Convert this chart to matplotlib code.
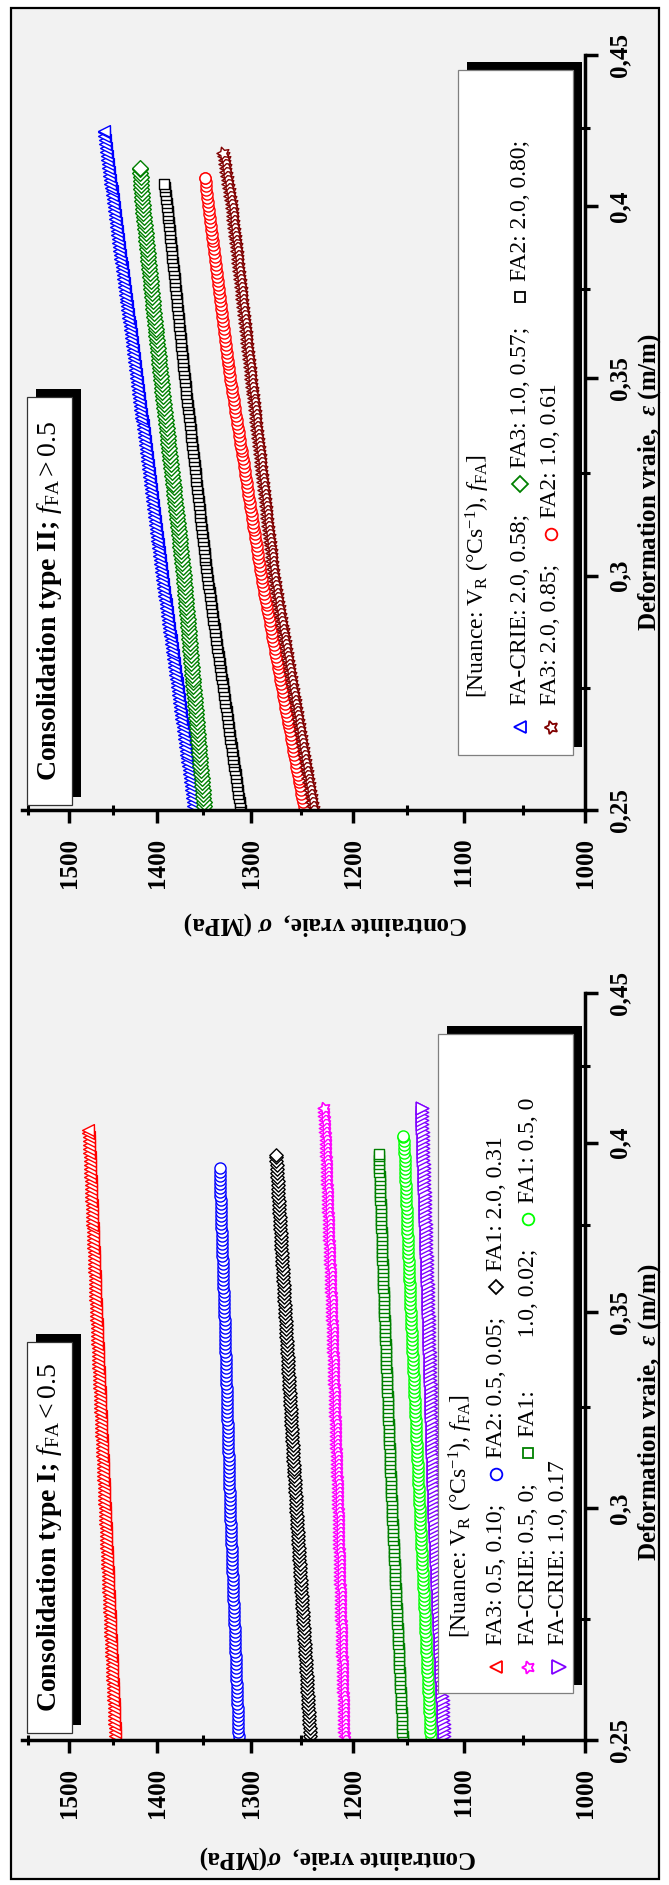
"""Courbes de consolidation (contrainte vraie vs deformation vraie), figure tournee."""

import matplotlib

matplotlib.use("Agg")

import matplotlib.pyplot as plt
import numpy as np
from matplotlib.lines import Line2D
from matplotlib.markers import MarkerStyle
from matplotlib.patches import Rectangle
from matplotlib.path import Path
from matplotlib.patheffects import AbstractPathEffect
from matplotlib.ticker import NullFormatter
from matplotlib.transforms import Affine2D, IdentityTransform

W, H = 669, 1885

plt.rcParams.update(
    {
        "font.family": ["Liberation Serif", "DejaVu Serif"],
        "mathtext.fontset": "custom",
        "mathtext.rm": "Liberation Serif",
        "mathtext.it": "Liberation Serif:italic",
        "mathtext.bf": "Liberation Serif:bold",
        "mathtext.bfit": "Liberation Serif:bold:italic",
    }
)

# ---------------------------------------------------------------------------
# Data
# ---------------------------------------------------------------------------
stress_ticks = [1000, 1100, 1200, 1300, 1400, 1500]
stress_minor = [1050, 1150, 1250, 1350, 1450, 1550]
strain_ticks = [0.25, 0.30, 0.35, 0.40, 0.45]
strain_tick_labels = ["0,25", "0,3", "0,35", "0,4", "0,45"]
strain_minor = [0.275, 0.325, 0.375, 0.425]

# Consolidation type II (f_FA > 0.5)
strain_crie_20_058 = [0.25, 0.30, 0.35, 0.40, 0.424]
stress_crie_20_058 = [1360, 1395, 1423, 1449, 1460]
strain_fa3_10_057 = [0.25, 0.30, 0.35, 0.40, 0.412]
stress_fa3_10_057 = [1349, 1371, 1396, 1416, 1419]
strain_fa2_20_080 = [0.25, 0.30, 0.35, 0.40, 0.407]
stress_fa2_20_080 = [1311, 1346, 1370, 1389, 1392]
strain_fa2_10_061 = [0.25, 0.30, 0.35, 0.40, 0.409]
stress_fa2_10_061 = [1247, 1290, 1322, 1345, 1348]
strain_fa3_20_085 = [0.25, 0.30, 0.35, 0.40, 0.417]
stress_fa3_20_085 = [1238, 1277, 1300, 1320, 1329]

# Consolidation type I (f_FA < 0.5)
strain_fa3_05_010 = [0.25, 0.30, 0.35, 0.40, 0.404]
stress_fa3_05_010 = [1447, 1459, 1469, 1477, 1478]
strain_fa2_05_005 = [0.25, 0.30, 0.35, 0.392]
stress_fa2_05_005 = [1313, 1322, 1328, 1333]
strain_fa1_20_031 = [0.25, 0.30, 0.35, 0.396]
stress_fa1_20_031 = [1241, 1255, 1266, 1275]
strain_crie_05_0 = [0.25, 0.30, 0.35, 0.40, 0.411]
stress_crie_05_0 = [1208, 1214, 1220, 1226, 1228]
strain_fa1_10_002 = [0.25, 0.30, 0.35, 0.3965]
stress_fa1_10_002 = [1154, 1164, 1171, 1176]
strain_fa1_05_0 = [0.25, 0.30, 0.35, 0.40, 0.402]
stress_fa1_05_0 = [1129, 1139, 1147, 1153, 1154]
strain_crie_10_017 = [0.25, 0.30, 0.35, 0.40, 0.411]
stress_crie_10_017 = [1117, 1126, 1131, 1136, 1137]

STAR = (5, 1, 90)

# marker, size (pt), colour
styles = {
    "crie_20_058": ("<", 8.5, "#0000ff"),
    "fa3_10_057": ("D", 8.0, "#008000"),
    "fa2_20_080": ("s", 7.2, "#000000"),
    "fa2_10_061": ("o", 8.0, "#ff0000"),
    "fa3_20_085": (STAR, 9.5, "#800000"),
    "fa3_05_010": ("<", 8.5, "#ff0000"),
    "fa2_05_005": ("o", 8.0, "#0000ff"),
    "fa1_20_031": ("D", 6.8, "#000000"),
    "crie_05_0": (STAR, 9.0, "#ff00ff"),
    "fa1_10_002": ("s", 6.8, "#008000"),
    "fa1_05_0": ("o", 8.0, "#00ff00"),
    "crie_10_017": (">", 9.0, "#8000ff"),
}

series_ii = [
    ("crie_20_058", strain_crie_20_058, stress_crie_20_058),
    ("fa3_10_057", strain_fa3_10_057, stress_fa3_10_057),
    ("fa2_20_080", strain_fa2_20_080, stress_fa2_20_080),
    ("fa2_10_061", strain_fa2_10_061, stress_fa2_10_061),
    ("fa3_20_085", strain_fa3_20_085, stress_fa3_20_085),
]
series_i = [
    ("fa3_05_010", strain_fa3_05_010, stress_fa3_05_010),
    ("fa2_05_005", strain_fa2_05_005, stress_fa2_05_005),
    ("fa1_20_031", strain_fa1_20_031, stress_fa1_20_031),
    ("crie_05_0", strain_crie_05_0, stress_crie_05_0),
    ("fa1_10_002", strain_fa1_10_002, stress_fa1_10_002),
    ("fa1_05_0", strain_fa1_05_0, stress_fa1_05_0),
    ("crie_10_017", strain_crie_10_017, stress_crie_10_017),
]


# ---------------------------------------------------------------------------
# Helpers
# ---------------------------------------------------------------------------
def fx(x):
    return x / W


def fy(y):
    return 1 - y / H


class MarkerTrail(AbstractPathEffect):
    """Line style: open symbols stamped every few pixels along the line."""

    def __init__(self, marker, size, color, step=4.0, lw=1.0):
        super().__init__()
        self.marker = MarkerStyle(marker)
        self.size = size
        self.color = color
        self.step = step
        self.lw = lw

    def draw_path(self, renderer, gc, tpath, affine, rgbFace=None):
        xy = affine.transform(tpath.vertices)
        dist = np.concatenate([[0.0], np.cumsum(np.hypot(*np.diff(xy, axis=0).T))])
        pos = np.append(np.arange(0.0, dist[-1], self.step), dist[-1])
        pts = np.column_stack(
            [np.interp(pos, dist, xy[:, 0]), np.interp(pos, dist, xy[:, 1])]
        )
        gc0 = renderer.new_gc()
        gc0.copy_properties(gc)
        gc0.set_foreground(self.color)
        gc0.set_linewidth(self.lw)
        gc0.set_dashes(0, None)
        scale = renderer.points_to_pixels(self.size)
        trans = self.marker.get_transform() + Affine2D().scale(scale)
        renderer.draw_markers(
            gc0, self.marker.get_path(), trans, Path(pts), IdentityTransform(),
            (1, 1, 1, 1),
        )
        gc0.restore()


def setup_axes(ax):
    ax.set_xscale("log")
    ax.set_yscale("log")
    ax.set_xlim(1557, 1000)
    ax.set_ylim(0.25, 0.45)
    ax.patch.set_visible(False)
    for side in ("top", "left"):
        ax.spines[side].set_visible(False)
    for side in ("bottom", "right"):
        ax.spines[side].set_linewidth(2.5)
    ax.yaxis.tick_right()
    ax.set_xticks(stress_ticks, labels=[str(v) for v in stress_ticks])
    ax.set_xticks(stress_minor, minor=True)
    ax.set_yticks(strain_ticks, labels=strain_tick_labels)
    ax.set_yticks(strain_minor, minor=True)
    ax.xaxis.set_minor_formatter(NullFormatter())
    ax.yaxis.set_minor_formatter(NullFormatter())
    ax.tick_params(which="major", direction="out", length=9, width=2.5, labelsize=18)
    ax.tick_params(which="minor", direction="inout", length=7, width=2.2)
    ax.tick_params(axis="x", pad=11, labelrotation=90)
    ax.tick_params(axis="y", pad=8, labelrotation=90)
    for lab in ax.get_xticklabels() + ax.get_yticklabels():
        lab.set_fontweight("bold")
    for lab in ax.get_yticklabels():
        lab.set_verticalalignment("center")


def plot_series(ax, series):
    for key, strain, stress in series:
        marker, size, color = styles[key]
        ax.plot(
            stress, strain, color=color, lw=1,
            path_effects=[MarkerTrail(marker, size, color)],
        )


def shadow_box(x0, x1, y0, y1, edge):
    fig.add_artist(
        Rectangle((fx(x0 + 9), fy(y1 - 8)), (x1 - x0) / W, (y1 - y0) / H,
                  transform=fig.transFigure, facecolor="black", edgecolor="none",
                  zorder=4)
    )
    fig.add_artist(
        Rectangle((fx(x0), fy(y1)), (x1 - x0) / W, (y1 - y0) / H,
                  transform=fig.transFigure, facecolor="white", edgecolor=edge,
                  lw=0.9, zorder=5)
    )


def legend_row(x, y, items, fs=17):
    for kind, value in items:
        if kind == "gap":
            y -= value
        elif kind == "mark":
            marker, size, color = styles[value]
            fig.add_artist(
                Line2D([fx(x)], [fy(y)], transform=fig.transFigure, ls="none",
                       marker=marker, ms=size * 1.05, mec=color, mfc="white",
                       mew=1.3, zorder=7)
            )
        else:
            t = fig.text(fx(x), fy(y), value, rotation=90, ha="center",
                         va="bottom", fontsize=fs, zorder=7)
            y -= t.get_window_extent(renderer).height


# ---------------------------------------------------------------------------
# Figure
# ---------------------------------------------------------------------------
fig = plt.figure(figsize=(W / 100, H / 100), dpi=100, facecolor="white")
renderer = fig.canvas.get_renderer()

fig.add_artist(
    Rectangle((fx(11), fy(1879)), (659 - 11) / W, (1879 - 8) / H,
              transform=fig.transFigure, facecolor="#f2f2f2", edgecolor="black",
              lw=1.6, zorder=-1)
)

ax_ii = fig.add_axes([fx(22), fy(810), (585 - 22) / W, (810 - 55) / H])
ax_i = fig.add_axes([fx(22), fy(1740), (585 - 22) / W, (1740 - 993) / H])
for ax in (ax_ii, ax_i):
    setup_axes(ax)
plot_series(ax_ii, series_ii)
plot_series(ax_i, series_i)

# axis labels
label_kw = dict(ha="center", va="center", fontsize=18, fontweight="bold")
fig.text(fx(650), fy(482), r"Deformation vraie,  $\mathbfit{\varepsilon}$ (m/m)",
         rotation=90, **label_kw)
fig.text(fx(650), fy(1412), r"Deformation vraie,  $\mathbfit{\varepsilon}$ (m/m)",
         rotation=90, **label_kw)
fig.text(fx(326), fy(923), r"Contrainte vraie,  $\mathbfit{\sigma}$ (MPa)",
         rotation=180, **label_kw)
fig.text(fx(338), fy(1857), r"Contrainte vraie,  $\mathbfit{\sigma}$(MPa)",
         rotation=180, **label_kw)

# title boxes
shadow_box(27, 72, 397, 805, "#333333")
fig.text(fx(49.5), fy(601), r"Consolidation type II; $f_{\mathrm{FA}} > 0.5$",
         rotation=90, ha="center", va="center", fontsize=20, fontweight="bold",
         zorder=6)
shadow_box(27, 72, 1342, 1733, "#333333")
fig.text(fx(49.5), fy(1537), r"Consolidation type I; $f_{\mathrm{FA}} < 0.5$",
         rotation=90, ha="center", va="center", fontsize=20, fontweight="bold",
         zorder=6)

# legends
nuance = r"[Nuance: V$_{\mathrm{R}}$ (°Cs$^{-1}$), $f_{\mathrm{FA}}$]"

shadow_box(458, 573, 70, 755, "#7f7f7f")
legend_row(478, 698, [("text", nuance)])
legend_row(520, 727, [
    ("mark", "crie_20_058"), ("gap", 22), ("text", "FA-CRIE: 2.0, 0.58;"),
    ("gap", 30), ("mark", "fa3_10_057"), ("gap", 16), ("text", "FA3: 1.0, 0.57;"),
    ("gap", 30), ("mark", "fa2_20_080"), ("gap", 16), ("text", "FA2: 2.0, 0.80;"),
])
legend_row(551, 727, [
    ("mark", "fa3_20_085"), ("gap", 22), ("text", "FA3: 2.0, 0.85;"),
    ("gap", 30), ("mark", "fa2_10_061"), ("gap", 16), ("text", "FA2: 1.0, 0.61"),
])

shadow_box(438, 573, 1034, 1693, "#7f7f7f")
legend_row(461, 1638, [("text", nuance)])
legend_row(496, 1667, [
    ("mark", "fa3_05_010"), ("gap", 22), ("text", "FA3: 0.5, 0.10;"),
    ("gap", 30), ("mark", "fa2_05_005"), ("gap", 16), ("text", "FA2: 0.5, 0.05;"),
    ("gap", 30), ("mark", "fa1_20_031"), ("gap", 16), ("text", "FA1: 2.0, 0.31"),
])
legend_row(528, 1667, [
    ("mark", "crie_05_0"), ("gap", 22), ("text", "FA-CRIE: 0.5, 0;"),
    ("gap", 30), ("mark", "fa1_10_002"), ("gap", 16),
    ("text", "FA1:         1.0, 0.02;"),
    ("gap", 30), ("mark", "fa1_05_0"), ("gap", 16), ("text", "FA1: 0.5, 0"),
])
legend_row(559, 1667, [
    ("mark", "crie_10_017"), ("gap", 22), ("text", "FA-CRIE: 1.0, 0.17"),
])

fig.savefig("out.png", dpi=100, facecolor=fig.get_facecolor())
plt.close(fig)
